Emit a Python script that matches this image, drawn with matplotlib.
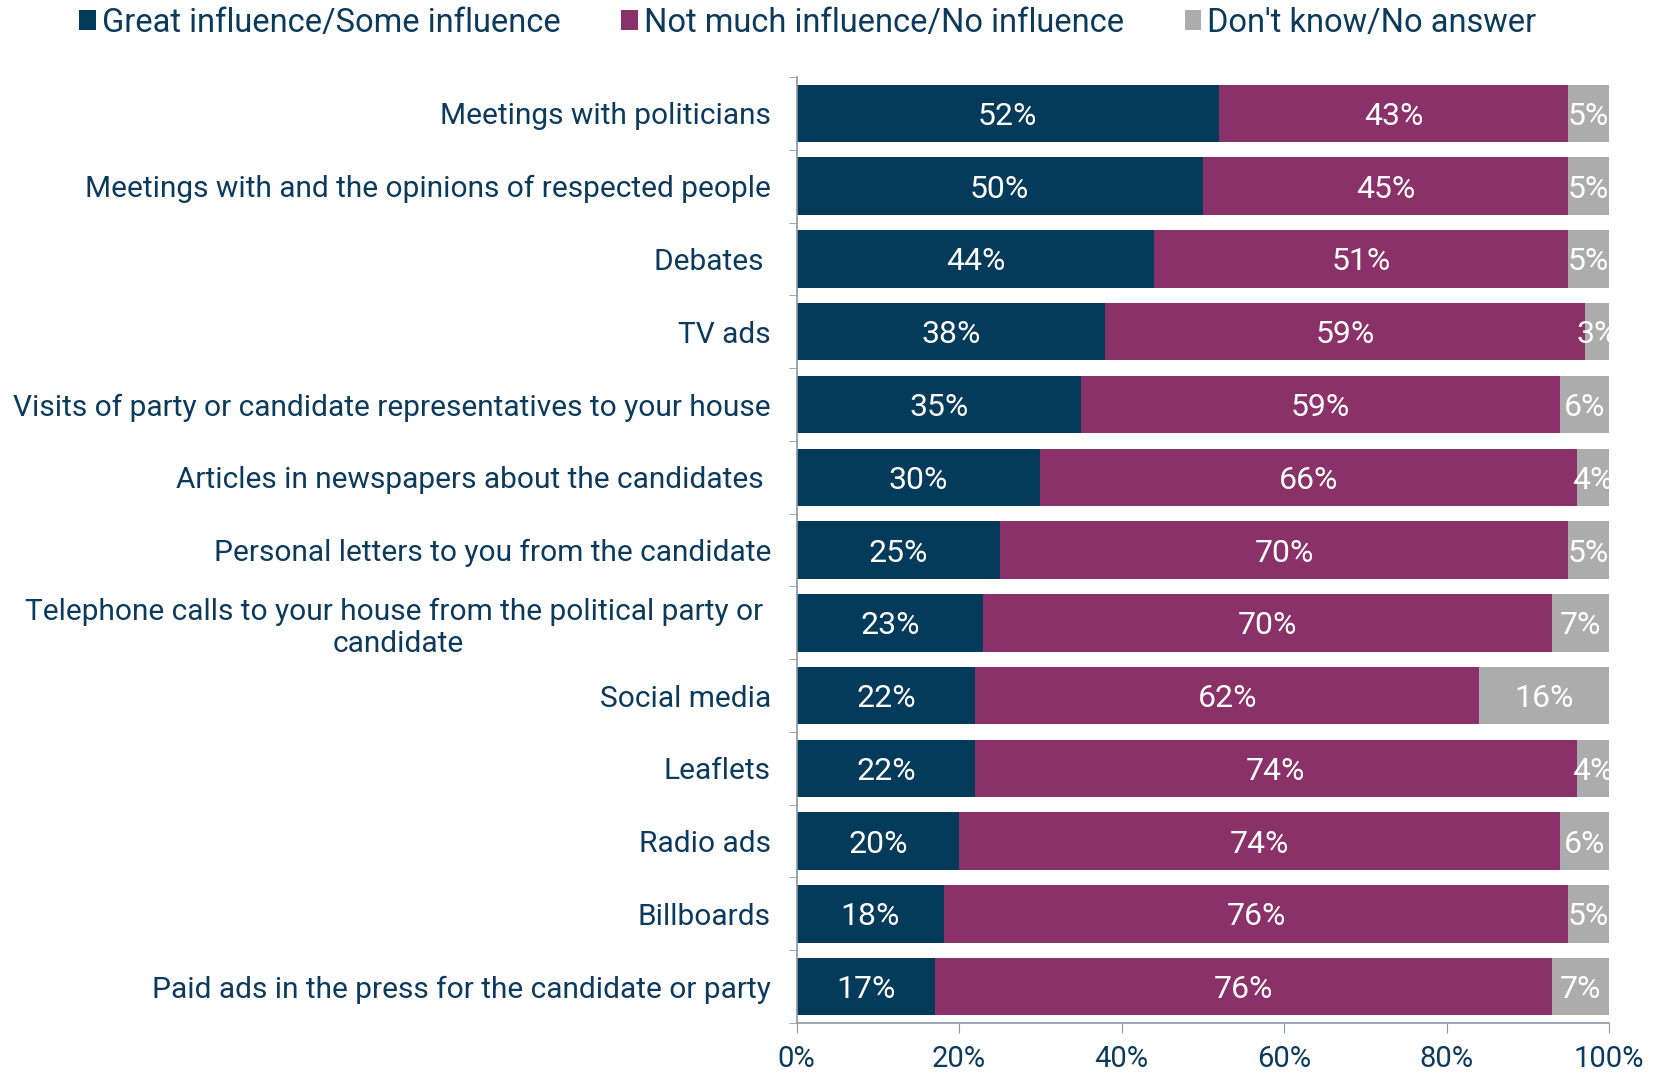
import matplotlib
matplotlib.use("Agg")
import matplotlib.pyplot as plt
import numpy as np

# Данные
categories = [
    "Meetings with politicians",
    "Meetings with and the opinions of respected people",
    "Debates ",
    "TV ads",
    "Visits of party or candidate representatives to your house",
    "Articles in newspapers about the candidates ",
    "Personal letters to you from the candidate",
    "Telephone calls to your house from the political party or \ncandidate",
    "Social media",
    "Leaflets",
    "Radio ads",
    "Billboards",
    "Paid ads in the press for the candidate or party",
]
great = [52, 50, 44, 38, 35, 30, 25, 23, 22, 22, 20, 18, 17]
not_much = [43, 45, 51, 59, 59, 66, 70, 70, 62, 74, 74, 76, 76]
dont_know = [5, 5, 5, 3, 6, 4, 5, 7, 16, 4, 6, 5, 7]
series_names = ["Great influence/Some influence",
                "Not much influence/No influence",
                "Don't know/No answer"]

NAVY = "#043a5a"
MAGENTA = "#8b316a"
GREY = "#acacac"
TEXT = "#0b3a5c"
SPINE = "#8c96a8"
plt.rcParams["font.family"] = ["Roboto", "DejaVu Sans"]

fig = plt.figure(figsize=(16.61, 10.77), dpi=100)
ax = fig.add_axes([0.4796, 0.0501, 0.4891, 0.8784])

# 100% stacked: каждая строка нормируется на свою сумму
raw = np.array([great, not_much, dont_know], dtype=float)
share = raw / raw.sum(axis=0) * 100

y = np.arange(len(categories))
left = np.zeros(len(categories))
for vals, lab, color, name in zip(share, raw, [NAVY, MAGENTA, GREY], series_names):
    bars = ax.barh(y, vals, left=left, height=0.79, color=color, label=name,
                   edgecolor="none")
    for b, v in zip(bars, lab):
        ax.text(b.get_x() + b.get_width() / 2, b.get_y() + b.get_height() / 2,
                f"{int(v)}%", ha="center", va="center_baseline", color="white",
                fontsize=23)
    left += vals

ax.set_xlim(0, 100)
ax.set_ylim(len(categories) - 0.5, -0.5)
ax.set_yticks(y)
ax.set_yticklabels(categories, fontsize=21.5, color=TEXT, multialignment="center")
ax.tick_params(axis="y", length=0, pad=18.5)
ax.set_yticks(np.arange(len(categories) + 1) - 0.5, minor=True)
ax.tick_params(axis="y", which="minor", length=6, color=SPINE, direction="out")

ax.set_xticks(np.arange(0, 101, 20))
ax.set_xticklabels([f"{t}%" for t in range(0, 101, 20)], fontsize=21, color=TEXT)
ax.tick_params(axis="x", length=7, color=SPINE, pad=9)

for side in ["top", "right"]:
    ax.spines[side].set_visible(False)
for side in ["left", "bottom"]:
    ax.spines[side].set_color(SPINE)
    ax.spines[side].set_linewidth(1.2)

fig.legend(loc="center left", bbox_to_anchor=(0.0477, 0.979), ncol=3, frameon=False,
           fontsize=23.5, handlelength=0.5, handleheight=0.6, handletextpad=0.2,
           columnspacing=1.85, labelcolor=TEXT, borderpad=0, borderaxespad=0)

fig.savefig("out.png", dpi=100)
